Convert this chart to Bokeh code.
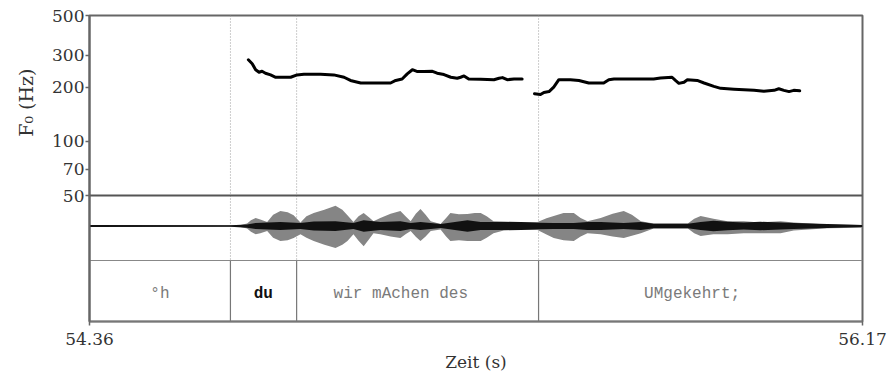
import math
from bokeh.plotting import figure
from bokeh.models import Range1d, FixedTicker, ColumnDataSource, LinearScale, Title
from bokeh.core.properties import value
from bokeh.embed import file_html
from bokeh.resources import INLINE

# ---------------- data ----------------
pitch1_t = [54.732, 54.741, 54.749, 54.757, 54.764, 54.772, 54.784, 54.796, 54.831, 54.846,
            54.862, 54.901, 54.932, 54.956, 54.971, 54.995, 55.026, 55.065, 55.077, 55.092,
            55.104, 55.116, 55.128, 55.143, 55.163, 55.174, 55.190, 55.206, 55.221, 55.229,
            55.237, 55.248, 55.276, 55.307, 55.319, 55.327, 55.338, 55.354, 55.373]
pitch1_hz = [284, 270, 250, 242, 245, 239, 234, 227, 227, 234,
             236, 236, 234, 227, 218, 211, 211, 211, 218, 222,
             237, 250, 244, 244, 245, 239, 235, 227, 224, 227,
             231, 222, 221, 220, 224, 226, 220, 222, 222]

pitch2_t = [55.402, 55.416, 55.424, 55.436, 55.447, 55.459, 55.486, 55.506, 55.529, 55.564,
            55.576, 55.588, 55.627, 55.681, 55.697, 55.724, 55.732, 55.740, 55.752, 55.760,
            55.783, 55.799, 55.822, 55.838, 55.869, 55.916, 55.939, 55.963, 55.974, 55.986,
            55.998, 56.009, 56.023]
pitch2_hz = [184, 182, 187, 189, 200, 220, 220, 218, 211, 211,
             220, 222, 222, 222, 225, 227, 218, 210, 213, 220,
             218, 211, 202, 197, 195, 192, 190, 192, 196, 192,
             189, 192, 191]

# waveform envelope (relative amplitude)
wave_t = [54.360, 54.690, 54.714, 54.729, 54.738, 54.749, 54.760, 54.776, 54.790, 54.807,
          54.824, 54.838, 54.854, 54.868, 54.885, 54.910, 54.936, 54.952, 54.964, 54.978,
          54.990, 55.002, 55.015, 55.025, 55.041, 55.065, 55.088, 55.100, 55.112, 55.124,
          55.135, 55.147, 55.159, 55.182, 55.195, 55.205, 55.225, 55.245, 55.262, 55.276,
          55.290, 55.306, 55.330, 55.370, 55.409, 55.430, 55.447, 55.470, 55.494, 55.510,
          55.526, 55.557, 55.585, 55.611, 55.630, 55.651, 55.681, 55.761, 55.776, 55.791,
          55.821, 55.854, 55.892, 55.931, 55.978, 56.009, 56.088, 56.170]
wave_upper = [0.03, 0.02, 0.03, 0.08, 0.18, 0.25, 0.20, 0.12, 0.35, 0.46,
              0.42, 0.33, 0.11, 0.30, 0.40, 0.50, 0.62, 0.50, 0.33, 0.12,
              0.30, 0.40, 0.26, 0.15, 0.25, 0.38, 0.46, 0.30, 0.15, 0.38,
              0.52, 0.35, 0.15, 0.06, 0.25, 0.40, 0.36, 0.37, 0.40, 0.40,
              0.30, 0.15, 0.14, 0.12, 0.12, 0.24, 0.31, 0.40, 0.40, 0.25,
              0.15, 0.25, 0.38, 0.46, 0.35, 0.15, 0.08, 0.08, 0.22, 0.31,
              0.22, 0.15, 0.15, 0.11, 0.15, 0.11, 0.05, 0.03]
wave_lower = [0.03, 0.02, 0.03, 0.08, 0.18, 0.25, 0.22, 0.15, 0.36, 0.46,
              0.44, 0.37, 0.25, 0.36, 0.46, 0.58, 0.68, 0.58, 0.46, 0.25,
              0.45, 0.62, 0.40, 0.22, 0.25, 0.32, 0.37, 0.25, 0.15, 0.33,
              0.46, 0.32, 0.15, 0.11, 0.32, 0.46, 0.44, 0.46, 0.46, 0.46,
              0.36, 0.22, 0.14, 0.12, 0.12, 0.26, 0.37, 0.44, 0.46, 0.32,
              0.22, 0.25, 0.32, 0.37, 0.30, 0.22, 0.08, 0.08, 0.22, 0.31,
              0.25, 0.25, 0.22, 0.22, 0.22, 0.14, 0.07, 0.05]
core_t = [54.360, 54.690, 54.729, 54.749, 54.807, 54.854, 54.885, 54.936, 54.978, 55.002,
          55.041, 55.088, 55.112, 55.135, 55.159, 55.182, 55.245, 55.276, 55.306, 55.370,
          55.409, 55.447, 55.494, 55.526, 55.557, 55.611, 55.651, 55.681, 55.761, 55.791,
          55.821, 55.854, 55.892, 55.931, 55.978, 56.009, 56.088, 56.170]
core_amp = [0.03, 0.02, 0.05, 0.09, 0.12, 0.09, 0.14, 0.15, 0.09, 0.18,
            0.12, 0.15, 0.09, 0.12, 0.09, 0.06, 0.18, 0.12, 0.12, 0.12,
            0.10, 0.09, 0.09, 0.12, 0.12, 0.09, 0.12, 0.07, 0.07, 0.12,
            0.16, 0.13, 0.11, 0.13, 0.11, 0.09, 0.06, 0.03]

tier_bounds = [54.36, 54.690, 54.845, 55.4115, 56.17]
tier_labels = ["°h", "du", "wir mAchen des", "UMgekehrt;"]
tier_label_t = [54.525, 54.767, 55.089, 55.771]
tier_bold = [False, True, False, False]

f0_ticks = [50, 70, 100, 200, 300, 500]
time_ticks = [54.36, 56.17]

# ---------------- layout constants ----------------
FRAME_W, FRAME_H = 773, 306
SERIF = "DejaVu Serif"
MONO = "Liberation Mono"

p = figure(frame_width=FRAME_W, frame_height=FRAME_H,
           x_range=Range1d(time_ticks[0], time_ticks[-1]),
           y_range=Range1d(10, 500), y_axis_type="log",
           output_backend="svg", toolbar_location=None,
           min_border_left=89, min_border_right=26,
           min_border_top=15, min_border_bottom=52)
p.background_fill_color = "white"
p.border_fill_color = "white"
p.outline_line_color = "#666666"
p.outline_line_width = 2
p.xgrid.visible = False
p.ygrid.visible = False

# panel coordinate (pixels from frame top) and waveform amplitude ranges
p.extra_y_ranges = {"panel": Range1d(FRAME_H, 0),
                    "wave": Range1d(-2.938, 6.477)}
p.extra_y_scales = {"panel": LinearScale(), "wave": LinearScale()}

# ---- axes ----
ya = p.yaxis[0]
ya.ticker = FixedTicker(ticks=f0_ticks)
ya.major_label_overrides = {t: str(t) for t in f0_ticks}
ya.minor_tick_line_color = None
ya.major_tick_in = 0
ya.major_tick_out = 4
ya.major_tick_line_color = "#666666"
ya.major_tick_line_width = 1.5
ya.major_label_standoff = 1
ya.axis_line_color = "#666666"
ya.axis_line_width = 2
ya.major_label_text_font = SERIF
ya.major_label_text_font_size = "17px"
ya.major_label_text_color = "#333333"

# y title placed over the pitch panel only
p.add_layout(Title(text="F₀ (Hz)", align="right", offset=53, standoff=22,
                   vertical_align="top",
                   text_font=SERIF, text_font_size="19px", text_font_style="normal",
                   text_color="#333333"), "left")

xa = p.xaxis[0]
xa.ticker = FixedTicker(ticks=time_ticks)
xa.major_label_overrides = {t: f"{t:.2f}" for t in time_ticks}
xa.minor_tick_line_color = None
xa.major_tick_in = 0
xa.major_tick_out = 4
xa.major_tick_line_color = "#666666"
xa.major_tick_line_width = 1.5
xa.major_label_standoff = 7
xa.axis_line_color = "#777777"
xa.axis_line_width = 1.5
xa.major_label_text_font = SERIF
xa.major_label_text_font_size = "17px"
xa.major_label_text_color = "#333333"
xa.axis_label = "Zeit (s)"
xa.axis_label_text_font = SERIF
xa.axis_label_text_font_size = "17px"
xa.axis_label_text_font_style = "normal"
xa.axis_label_text_color = "#333333"
xa.axis_label_standoff = 4

# ---- panel separators and tier boundaries ----
inner = tier_bounds[1:-1]
p.segment(x0=inner, x1=inner, y0=[0] * len(inner), y1=[245] * len(inner),
          y_range_name="panel", line_color="#9a9a9a", line_width=1, line_dash="1 2")
p.segment(x0=inner, x1=inner, y0=[245] * len(inner), y1=[FRAME_H] * len(inner),
          y_range_name="panel", line_color="#777777", line_width=1.2)
p.segment(x0=[tier_bounds[0]], x1=[tier_bounds[-1]], y0=[180], y1=[180],
          y_range_name="panel", line_color="#555555", line_width=2.2)
p.segment(x0=[tier_bounds[0]], x1=[tier_bounds[-1]], y0=[245], y1=[245],
          y_range_name="panel", line_color="#888888", line_width=1.2)

# ---- waveform ----
p.varea(x=wave_t, y1=[-v for v in wave_lower], y2=wave_upper,
        y_range_name="wave", fill_color="#858585")
p.varea(x=core_t, y1=[-v for v in core_amp], y2=core_amp,
        y_range_name="wave", fill_color="#111111")

# ---- pitch ----
for tt, hz in ((pitch1_t, pitch1_hz), (pitch2_t, pitch2_hz)):
    p.line(tt, hz, line_color="black", line_width=3, line_join="round", line_cap="round")

# ---- tier labels ----
src = ColumnDataSource(dict(
    x=tier_label_t, y=[278] * len(tier_label_t), text=tier_labels,
    color=["#111111" if b else "#7a7a7a" for b in tier_bold],
    style=["bold" if b else "normal" for b in tier_bold]))
p.text(x="x", y="y", text="text", source=src, y_range_name="panel",
       text_font=value(MONO), text_font_size="16px", text_font_style="style",
       text_color="color", text_align="center", text_baseline="middle")

open("out.html", "w").write(file_html(p, INLINE))
